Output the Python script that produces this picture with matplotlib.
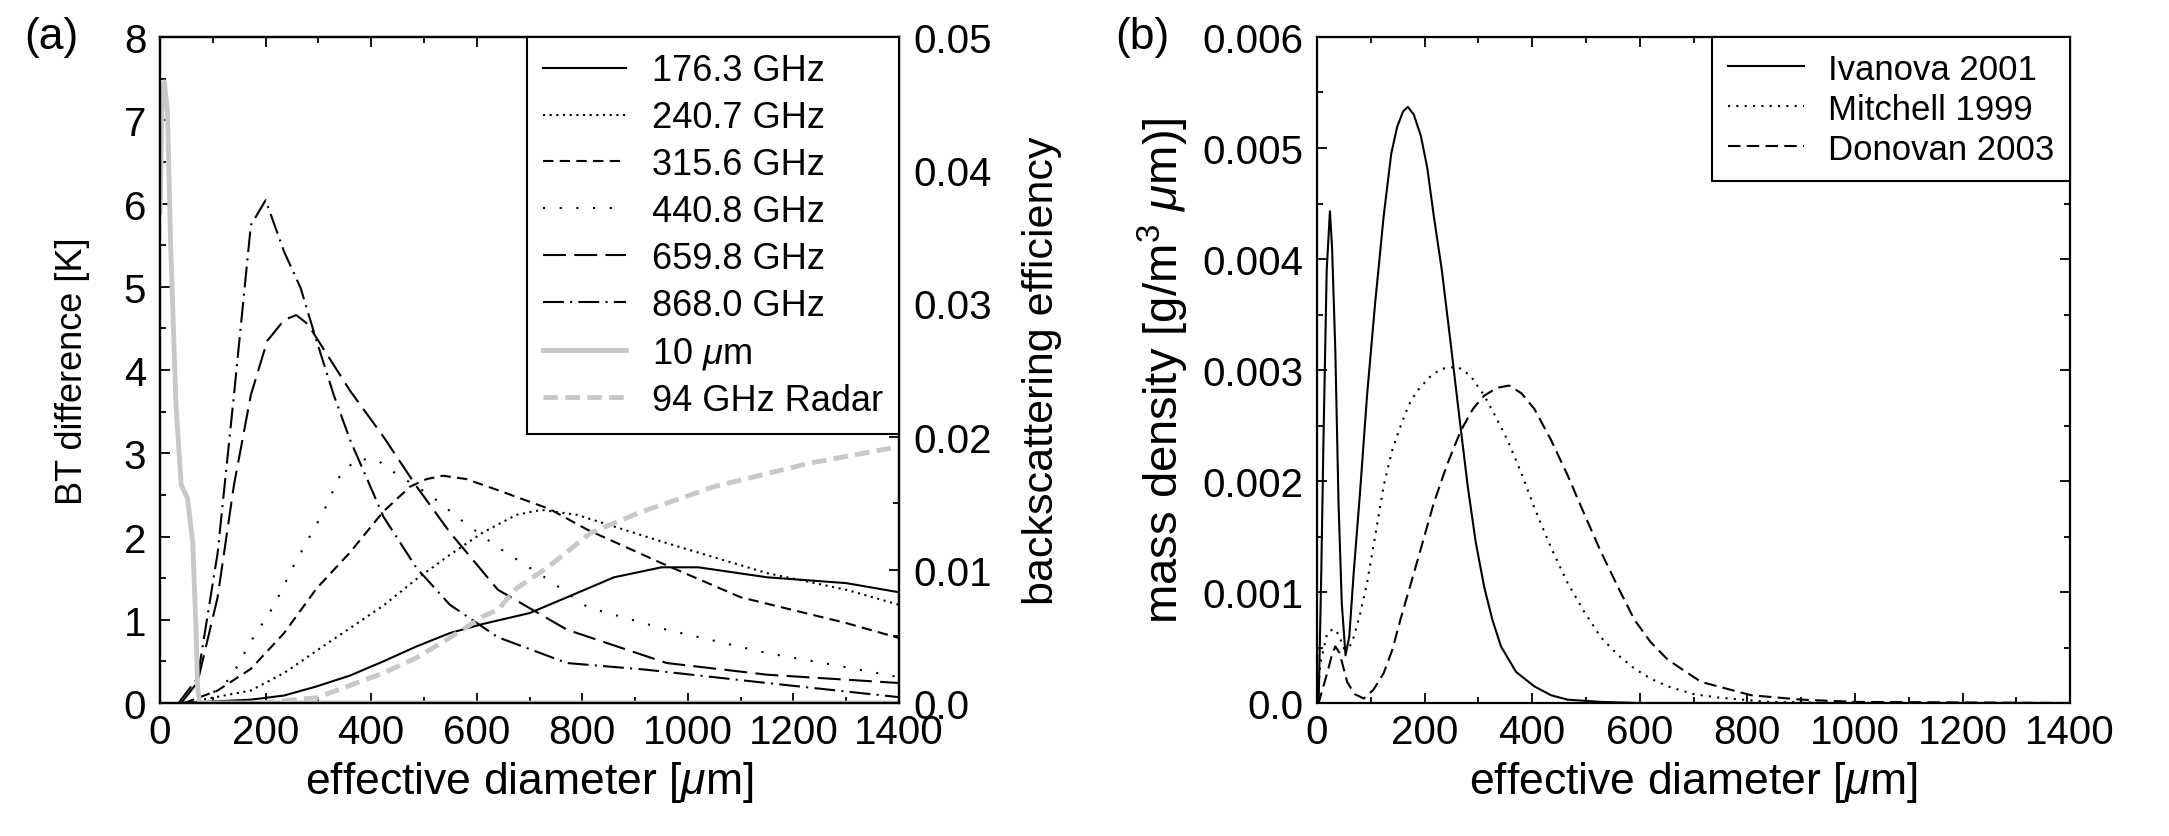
import matplotlib
matplotlib.use("Agg")
import matplotlib.pyplot as plt
from matplotlib.ticker import MultipleLocator, FuncFormatter

plt.rcParams["font.family"] = ["Liberation Sans", "DejaVu Sans"]
plt.rcParams["mathtext.fontset"] = "custom"
plt.rcParams["mathtext.rm"] = "Liberation Sans"
plt.rcParams["mathtext.it"] = "Liberation Sans:italic"

# ---- panel (a): BT difference [K] vs effective diameter [um] ----
d_176 = [40, 172, 235, 297, 360, 423, 486, 549, 612, 700, 771, 860, 950, 1020, 1150, 1300, 1400]
bt_176 = [0.0, 0.04, 0.09, 0.2, 0.33, 0.5, 0.68, 0.84, 0.95, 1.08, 1.27, 1.51, 1.63, 1.63, 1.51, 1.44, 1.33]

d_240 = [46, 172, 235, 297, 360, 423, 486, 549, 612, 675, 722, 790, 960, 1150, 1300, 1400]
bt_240 = [0.0, 0.15, 0.36, 0.63, 0.9, 1.17, 1.49, 1.78, 2.05, 2.26, 2.32, 2.26, 1.92, 1.56, 1.36, 1.18]

d_315 = [46, 109, 172, 235, 297, 360, 423, 474, 505, 536, 580, 643, 738, 810, 950, 1100, 1300, 1400]
bt_315 = [0.0, 0.15, 0.41, 0.84, 1.38, 1.81, 2.3, 2.6, 2.69, 2.73, 2.69, 2.55, 2.33, 2.08, 1.68, 1.27, 0.96, 0.78]

d_440 = [77, 134, 172, 216, 253, 310, 342, 373, 411, 448, 511, 574, 640, 731, 810, 960, 1150, 1300, 1400]
bt_440 = [0.0, 0.3, 0.74, 1.17, 1.65, 2.3, 2.75, 2.93, 2.92, 2.75, 2.5, 2.18, 1.87, 1.5, 1.15, 0.88, 0.6, 0.43, 0.31]

d_659 = [40, 71, 109, 140, 172, 203, 235, 258, 280, 310, 360, 423, 486, 549, 640, 771, 960, 1150, 1400]
bt_659 = [0.0, 0.25, 1.27, 2.62, 3.7, 4.35, 4.6, 4.66, 4.55, 4.25, 3.75, 3.2, 2.6, 2.05, 1.36, 0.88, 0.48, 0.34, 0.24]

d_868 = [35, 71, 109, 140, 172, 200, 235, 266, 297, 329, 360, 423, 486, 549, 640, 771, 921, 1150, 1400]
bt_868 = [0.0, 0.3, 1.8, 3.7, 5.74, 6.04, 5.42, 4.99, 4.34, 3.7, 3.16, 2.24, 1.62, 1.18, 0.79, 0.48, 0.4, 0.24, 0.07]

d_10um = [0, 4, 8, 14, 20, 30, 40, 52, 62, 68, 71, 75, 1400]
bt_10um = [5.9, 7.2, 7.46, 7.1, 5.5, 3.6, 2.62, 2.46, 1.92, 0.9, 0.2, 0.0, 0.0]

d_radar = [190, 297, 423, 486, 549, 612, 640, 675, 735, 815, 905, 1050, 1230, 1400]
bsc_radar = [0.0, 0.0004, 0.00225, 0.0034, 0.0049, 0.0065, 0.007, 0.0086, 0.0102, 0.01275,
             0.01425, 0.01625, 0.018, 0.01925]

# ---- panel (b): mass density [g/m^3 um] ----
d_iva = [0, 3, 8, 12, 18, 24, 28, 34, 40, 46, 53, 60, 68, 80, 93, 108, 124, 138, 149, 160, 169,
         180, 193, 205, 217, 232, 248, 264, 280, 295, 311, 326, 342, 370, 404, 435, 466, 528, 600, 1400]
md_iva = [0.0, 0.0, 0.0012, 0.00237, 0.0039, 0.00443, 0.0041, 0.00318, 0.0018, 0.0009, 0.00043,
          0.0006, 0.00116, 0.0019, 0.00277, 0.0036, 0.00439, 0.00495, 0.00519, 0.00533, 0.00537,
          0.0053, 0.00511, 0.00482, 0.00439, 0.0039, 0.00326, 0.0026, 0.00196, 0.00145, 0.00104,
          0.00075, 0.00051, 0.00028, 0.00015, 0.00007, 0.00003, 0.00001, 0.0, 0.0]

d_mit = [0, 6, 19, 31, 40, 50, 60, 68, 80, 93, 108, 124, 140, 155, 170, 186, 208, 230, 261, 285,
         311, 332, 354, 380, 404, 435, 466, 497, 528, 560, 590, 620, 652, 700, 745, 839, 1000, 1400]
md_mit = [0.0, 0.00035, 0.00063, 0.00067, 0.00062, 0.00049, 0.0005, 0.00059, 0.0008, 0.00108,
          0.0015, 0.00196, 0.00228, 0.00249, 0.00268, 0.00281, 0.00293, 0.00301, 0.00303, 0.00295,
          0.00277, 0.00258, 0.00237, 0.00207, 0.00176, 0.0014, 0.00108, 0.00082, 0.00059, 0.00043,
          0.00031, 0.00022, 0.00015, 0.00008, 0.00005, 0.00001, 0.0, 0.0]

d_don = [0, 3, 10, 19, 27, 34, 42, 56, 70, 87, 105, 124, 140, 155, 186, 217, 242, 267, 290, 311,
         335, 357, 380, 404, 435, 466, 497, 528, 560, 590, 620, 652, 714, 807, 901, 1000, 1400]
md_don = [0.0, 0.0, 0.00012, 0.00027, 0.00042, 0.00051, 0.00045, 0.00019, 0.00008, 0.00004,
          0.00012, 0.00027, 0.00048, 0.00075, 0.00127, 0.0018, 0.00215, 0.00245, 0.00265, 0.00277,
          0.00284, 0.00286, 0.00279, 0.00265, 0.00237, 0.00205, 0.0017, 0.00136, 0.00104, 0.00075,
          0.00055, 0.00039, 0.00019, 0.00007, 0.00003, 0.00001, 0.0]

TFS = 29   # tick labels
lw = 1.5
gray = "#c8c8c8"


def style_ticks(a, right=True):
    a.tick_params(which="both", direction="in", top=True, right=right, labelsize=TFS, width=1.3)
    a.tick_params(which="major", length=7)
    a.tick_params(which="minor", length=4)
    a.tick_params(axis="x", pad=7)
    a.tick_params(axis="y", pad=10)
    for s in a.spines.values():
        s.set_linewidth(1.6)


fig = plt.figure(figsize=(21.69, 8.37), dpi=100)
ax = fig.add_axes([0.0738, 0.1589, 0.3407, 0.7957])
ax2 = ax.twinx()

h = []
h += ax.plot(d_176, bt_176, color="k", lw=lw, ls="-", label="176.3 GHz")
h += ax.plot(d_240, bt_240, color="k", lw=lw, ls=(0, (1, 2.2)), label="240.7 GHz")
h += ax.plot(d_315, bt_315, color="k", lw=lw, ls=(0, (5, 3)), label="315.6 GHz")
h += ax.plot(d_440, bt_440, color="k", lw=lw, ls=(0, (1, 7)), label="440.8 GHz")
h += ax.plot(d_659, bt_659, color="k", lw=lw, ls=(0, (11, 4)), label="659.8 GHz")
h += ax.plot(d_868, bt_868, color="k", lw=lw, ls=(0, (10, 3, 1, 3)), label="868.0 GHz")
h += ax.plot(d_10um, bt_10um, color=gray, lw=3.5, ls="-", label=r"10 $\mu$m")
h += ax2.plot(d_radar, bsc_radar, color=gray, lw=3.5, ls=(0, (3, 1.5)), label="94 GHz Radar")

ax.set_xlim(0, 1400)
ax.set_ylim(0, 8)
ax2.set_ylim(0, 0.05)
ax.xaxis.set_major_locator(MultipleLocator(200))
ax.xaxis.set_minor_locator(MultipleLocator(100))
ax.yaxis.set_major_locator(MultipleLocator(1))
ax.yaxis.set_minor_locator(MultipleLocator(0.5))
ax2.yaxis.set_major_locator(MultipleLocator(0.01))
ax2.yaxis.set_minor_locator(MultipleLocator(0.005))
ax2.yaxis.set_major_formatter(FuncFormatter(lambda v, p: "0.0" if abs(v) < 1e-12 else "%.2f" % v))
style_ticks(ax, right=False)
style_ticks(ax2)
ax2.tick_params(which="both", left=False, top=False)
ax.set_xlabel(r"effective diameter [$\mu$m]", fontsize=32, labelpad=6)
ax.set_ylabel("BT difference [K]", fontsize=26, labelpad=24)
ax2.set_ylabel("backscattering efficiency", fontsize=31, labelpad=22)
leg = ax2.legend(handles=h, loc="upper right", fontsize=26, borderaxespad=0, fancybox=False,
                 framealpha=1, edgecolor="k", handlelength=2.3, labelspacing=0.33,
                 borderpad=0.45, handletextpad=0.7)
leg.get_frame().set_linewidth(1.5)
fig.text(0.011, 0.955, "(a)", fontsize=32, va="center")

# ---- panel (b) ----
bx = fig.add_axes([0.6072, 0.1589, 0.3472, 0.7957])
bx.plot(d_iva, md_iva, color="k", lw=lw, ls="-", label="Ivanova 2001")
bx.plot(d_mit, md_mit, color="k", lw=lw, ls=(0, (1, 3)), label="Mitchell 1999")
bx.plot(d_don, md_don, color="k", lw=lw, ls=(0, (6, 3)), label="Donovan 2003")
bx.set_xlim(0, 1400)
bx.set_ylim(0, 0.006)
bx.xaxis.set_major_locator(MultipleLocator(200))
bx.xaxis.set_minor_locator(MultipleLocator(100))
bx.yaxis.set_major_locator(MultipleLocator(0.001))
bx.yaxis.set_minor_locator(MultipleLocator(0.0005))
bx.yaxis.set_major_formatter(FuncFormatter(lambda v, p: "0.0" if abs(v) < 1e-12 else "%.3f" % v))
style_ticks(bx)
bx.set_xlabel(r"effective diameter [$\mu$m]", fontsize=32, labelpad=6)
bx.set_ylabel(r"mass density [g/m$^3$ $\mu$m)]", fontsize=34, labelpad=8)
leg2 = bx.legend(loc="upper right", fontsize=25, borderaxespad=0, fancybox=False, framealpha=1,
                 edgecolor="k", handlelength=2.2, labelspacing=0.2, borderpad=0.45,
                 handletextpad=0.7)
leg2.get_frame().set_linewidth(1.5)
fig.text(0.514, 0.955, "(b)", fontsize=32, va="center")

fig.savefig("out.png", dpi=100)
